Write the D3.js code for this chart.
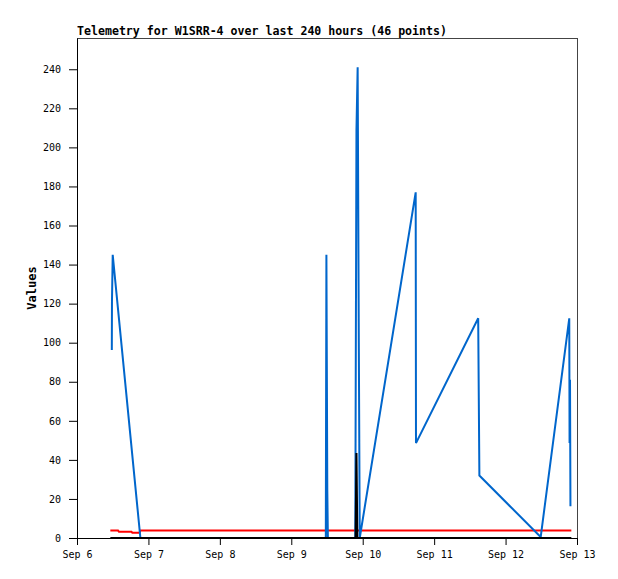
<!DOCTYPE html>
<html>
<head>
<meta charset="utf-8">
<script src="https://cdn.jsdelivr.net/npm/d3@7"></script>
<style>
  html, body { margin: 0; padding: 0; background: #fff; }
  svg { display: block; }
  .tick text { font-family: "DejaVu Sans Mono", "Liberation Mono", monospace; font-size: 10px; fill: #000; }
</style>
</head>
<body>
<svg id="chart" width="618" height="579"></svg>
<script>
// ---- data (hours after Sep 6 00:00) ----
const titleText = "Telemetry for W1SRR-4 over last 240 hours (46 points)";
const yLabel = "Values";
const yTicks = [0, 20, 40, 60, 80, 100, 120, 140, 160, 180, 200, 220, 240];

const blueHours  = [11.7, 11.75, 12.0, 21.3, 83.6, 83.8, 84.1, 84.3, 93.5, 93.9, 94.3, 94.7, 95.0, 113.8, 113.9, 134.8, 135.0, 135.2, 155.8, 165.4, 165.5, 165.65, 165.8];
const blueValues = [96.3, 121, 145, 0, 0, 145, 24.7, 0, 0, 208.8, 241, 96.8, 0, 177, 48.6, 112.5, 72, 32, 0.5, 112.5, 48.7, 81, 16.2];

const redHours  = [11.2, 13.8, 14.1, 18.3, 18.6, 21.0, 21.3, 166.1];
const redValues = [3.8, 3.8, 3.2, 3.2, 2.7, 2.7, 3.8, 3.8];

const blackHours  = [11.2, 93.6, 93.9, 94.2, 166.1];
const blackValues = [0, 0, 43.5, 0, 0];

// ---- setup ----
const base = new Date(2024, 8, 6, 0, 0, 0);
const toDate = h => new Date(base.getTime() + h * 3600e3);
const svg = d3.select("#chart");
const L = 77, R = 577, T = 38, B = 538;

const x = d3.scaleTime().domain([base, d3.timeDay.offset(base, 7)]).range([L, R]);
const y = d3.scaleLinear().domain([0, 256]).range([B, T]);

svg.append("rect").attr("width", 618).attr("height", 579).attr("fill", "#fff");

// frame
svg.append("rect")
  .attr("x", L + 0.5).attr("y", T + 0.5)
  .attr("width", R - L).attr("height", B - T)
  .attr("fill", "none").attr("stroke", "#444").attr("stroke-width", 1);

// axes
const xAxis = d3.axisBottom(x)
  .ticks(d3.timeDay.every(1))
  .tickFormat(d3.timeFormat("%b %-d"))
  .tickSizeInner(7).tickSizeOuter(0).tickPadding(6);
const gx = svg.append("g").attr("transform", `translate(0,${B})`).call(xAxis);
gx.select(".domain").attr("stroke", "#000");

const yAxis = d3.axisLeft(y).tickValues(yTicks).tickSizeInner(8).tickSizeOuter(0).tickPadding(8);
const gy = svg.append("g").attr("transform", `translate(${L},0)`).call(yAxis);
gy.select(".domain").attr("stroke", "#000");

// series
const line = d3.line().x(d => x(d[0])).y(d => y(d[1]));
function series(hours, values, color) {
  const pts = hours.map((h, i) => [toDate(h), values[i]]);
  svg.append("path")
    .attr("d", line(pts))
    .attr("fill", "none")
    .attr("stroke", color)
    .attr("stroke-width", 2)
    .attr("stroke-linejoin", "miter")
    .attr("stroke-miterlimit", 2);
}
series(redHours, redValues, "#ff0000");
series(blueHours, blueValues, "#0066cc");
series(blackHours, blackValues, "#000000");

// title
svg.append("text")
  .attr("x", 77).attr("y", 35)
  .attr("font-family", "'DejaVu Sans Mono', 'Liberation Mono', monospace")
  .attr("font-weight", "bold").attr("font-size", 12)
  .attr("textLength", 370).attr("lengthAdjust", "spacingAndGlyphs")
  .text(titleText);

// y label
svg.append("text")
  .attr("transform", `translate(36,${(T + B) / 2}) rotate(-90)`)
  .attr("text-anchor", "middle")
  .attr("font-family", "'DejaVu Sans Mono', 'Liberation Mono', monospace")
  .attr("font-weight", "bold").attr("font-size", 12)
  .text(yLabel);
</script>
</body>
</html>
